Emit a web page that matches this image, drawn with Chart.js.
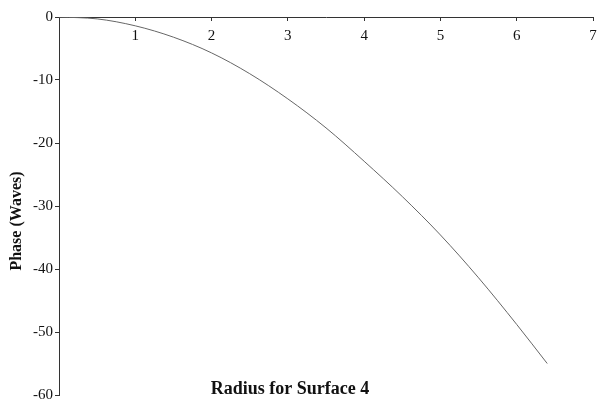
<!DOCTYPE html>
<html>
<head>
<meta charset="utf-8">
<script src="https://cdn.jsdelivr.net/npm/chart.js@4/dist/chart.umd.min.js"></script>
<style>
  html, body { margin: 0; padding: 0; background: #fff; }
  #wrap { width: 597px; height: 406px; }
</style>
</head>
<body>
<div id="wrap"><canvas id="phaseChart"></canvas></div>
<script>
// Radius (x) and phase in waves (y) for surface 4
const radius = [0, 0.5, 1, 1.5, 2, 2.5, 3, 3.5, 4, 4.5, 5, 5.5, 6, 6.4];
const phase = [0, -0.3, -1.4, -3.2, -5.7, -9.0, -13.0, -17.6, -22.9, -28.5, -34.6, -41.4, -48.8, -55.0];
const xTicks = [1, 2, 3, 4, 5, 6, 7];
const yTicks = [0, -10, -20, -30, -40, -50, -60];

const serif = "'Liberation Serif', 'Times New Roman', serif";

// axis captions are drawn by hand: the x one sits inside the plot near the bottom
const captions = {
  id: 'captions',
  afterDraw(chart) {
    const ctx = chart.ctx;
    const area = chart.chartArea;
    ctx.save();
    ctx.fillStyle = '#111';
    ctx.textAlign = 'center';
    ctx.textBaseline = 'middle';
    ctx.font = "bold 18px " + serif;
    ctx.fillText('Radius for Surface 4', 290, area.bottom - 6);
    ctx.font = "bold 16px " + serif;
    ctx.translate(17, 221);
    ctx.rotate(-Math.PI / 2);
    ctx.fillText('Phase (Waves)', 0, 0);
    ctx.restore();
  }
};

const points = radius.map((r, i) => ({ x: r, y: phase[i] }));

new Chart(document.getElementById('phaseChart'), {
  type: 'line',
  data: {
    datasets: [{
      data: points,
      borderColor: '#666',
      borderWidth: 1,
      pointRadius: 0,
      cubicInterpolationMode: 'monotone',
      fill: false
    }]
  },
  options: {
    responsive: true,
    maintainAspectRatio: false,
    animation: false,
    layout: { padding: { top: 17, bottom: 8, right: 4, left: 0 } },
    plugins: { legend: { display: false }, tooltip: { enabled: false } },
    scales: {
      x: {
        type: 'linear',
        position: { y: 0 },
        min: 0,
        max: 7,
        afterBuildTicks: (axis) => { axis.ticks = xTicks.map(v => ({ value: v })); },
        // let the last label run to the canvas edge instead of shrinking the plot
        afterFit: (axis) => { axis.paddingLeft = 0; axis.paddingRight = 0; },
        grid: { drawOnChartArea: false, drawTicks: true, tickLength: 3, color: '#333' },
        border: { color: '#333', width: 1 },
        ticks: { color: '#111', font: { family: serif, size: 15 }, padding: 7, maxRotation: 0 }
      },
      y: {
        min: -60,
        max: 0,
        afterBuildTicks: (axis) => { axis.ticks = yTicks.map(v => ({ value: v })); },
        afterFit: (axis) => { axis.width = 59; },
        grid: { drawOnChartArea: false, drawTicks: true, tickLength: 4, color: '#333' },
        border: { color: '#333', width: 1 },
        ticks: { color: '#111', font: { family: serif, size: 15 }, padding: 2 }
      }
    }
  },
  plugins: [captions]
});
</script>
</body>
</html>
